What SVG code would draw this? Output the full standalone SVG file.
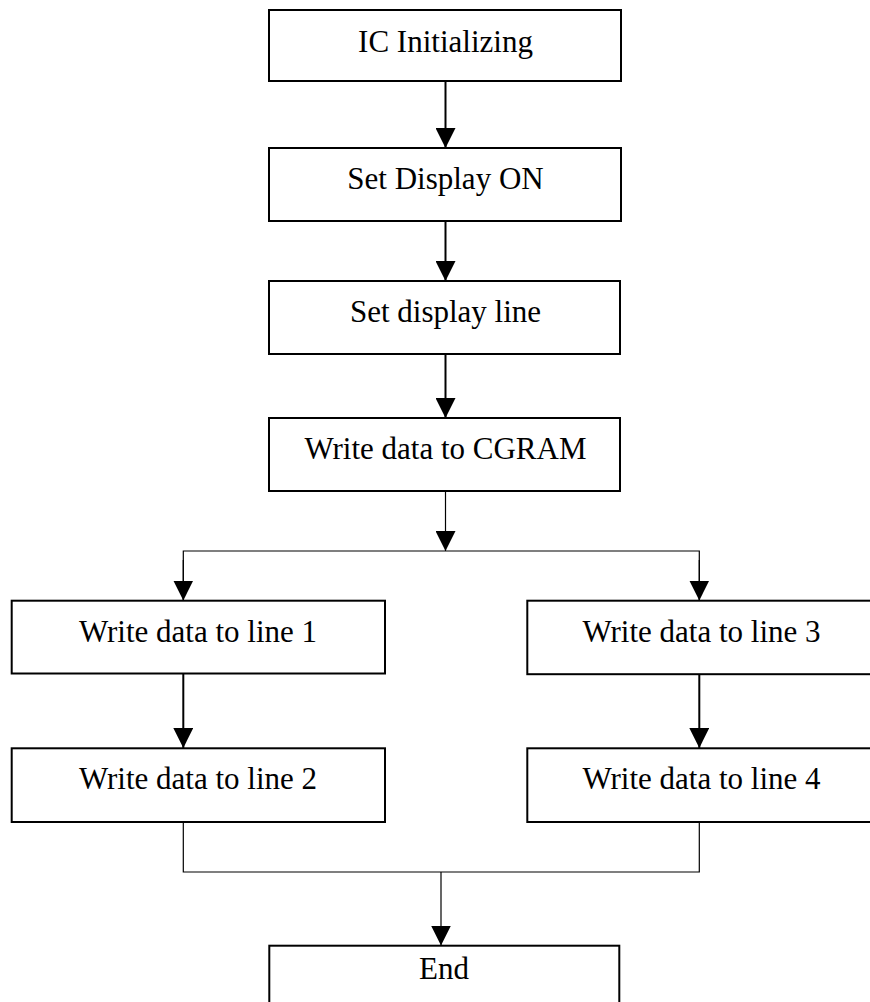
<svg xmlns="http://www.w3.org/2000/svg" width="870" height="1002" viewBox="0 0 870 1002">
<style>
.box{fill:#fff;stroke:#000;stroke-width:2}
.lbl{font-family:"Liberation Serif","Times New Roman",serif;font-size:31px;fill:#000;text-anchor:middle}
.main{stroke:#000;stroke-width:2;fill:none}
.thin{stroke:#000;stroke-width:1.2;fill:none}
</style>
<defs>
<marker id="ah" markerUnits="userSpaceOnUse" markerWidth="20" markerHeight="20" viewBox="0 0 19 19" refX="19" refY="9.5" orient="auto">
<path d="M0,0 L19,9.5 L0,19 z" fill="#000"/>
</marker>
</defs>
<rect width="870" height="1002" fill="#fff"/>
<g id="connectors">
<line class="main" x1="445.5" y1="81" x2="445.5" y2="148" marker-end="url(#ah)"/>
<line class="main" x1="445.5" y1="221" x2="445.5" y2="281" marker-end="url(#ah)"/>
<line class="main" x1="445.5" y1="354" x2="445.5" y2="418" marker-end="url(#ah)"/>
<line class="thin" x1="445.5" y1="491" x2="445.5" y2="551" marker-end="url(#ah)"/>
<polyline class="thin" points="183.3,600.5 183.3,551 699.3,551 699.3,600.5"/>
<line class="thin" x1="183.3" y1="560" x2="183.3" y2="600.5" marker-end="url(#ah)"/>
<line class="thin" x1="699.3" y1="560" x2="699.3" y2="600.5" marker-end="url(#ah)"/>
<line class="main" x1="183.3" y1="673.5" x2="183.3" y2="748" marker-end="url(#ah)"/>
<line class="main" x1="699.3" y1="674" x2="699.3" y2="748" marker-end="url(#ah)"/>
<polyline class="thin" points="183.3,822 183.3,872 699.3,872 699.3,822"/>
<line class="thin" x1="441" y1="872" x2="441" y2="945.5" marker-end="url(#ah)"/>
</g>
<g id="n1"><rect class="box" x="269" y="10" width="352" height="71"/><text class="lbl" x="445.5" y="52">IC Initializing</text></g>
<g id="n2"><rect class="box" x="269" y="148" width="352" height="73"/><text class="lbl" x="445.5" y="189">Set Display ON</text></g>
<g id="n3"><rect class="box" x="269" y="281" width="351" height="73"/><text class="lbl" x="445.5" y="322">Set display line</text></g>
<g id="n4"><rect class="box" x="269" y="418" width="351" height="73"/><text class="lbl" x="445.5" y="459">Write data to CGRAM</text></g>
<g id="n5"><rect class="box" x="11.7" y="600.7" width="373.3" height="72.8"/><text class="lbl" x="198" y="642">Write data to line 1</text></g>
<g id="n6"><rect class="box" x="527.3" y="600.7" width="349" height="73.5"/><text class="lbl" x="701.5" y="642">Write data to line 3</text></g>
<g id="n7"><rect class="box" x="11.7" y="748.3" width="373.3" height="73.7"/><text class="lbl" x="198" y="789">Write data to line 2</text></g>
<g id="n8"><rect class="box" x="527.3" y="748.3" width="349" height="73.7"/><text class="lbl" x="701.5" y="789">Write data to line 4</text></g>
<g id="n9"><rect class="box" x="269.3" y="945.7" width="350" height="70"/><text class="lbl" x="444" y="979">End</text></g>
</svg>
